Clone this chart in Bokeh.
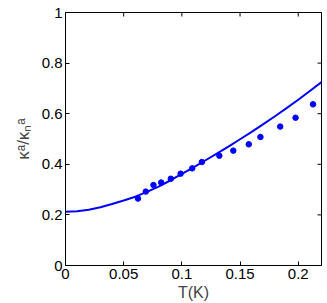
import math
from bokeh.plotting import figure
from bokeh.models import Range1d, FixedTicker
from bokeh.embed import file_html
from bokeh.resources import INLINE

# fitted curve
T_fit = [0.00, 0.01, 0.02, 0.03, 0.04, 0.05, 0.06, 0.07, 0.08, 0.09, 0.10, 0.11,
         0.12, 0.13, 0.14, 0.15, 0.16, 0.17, 0.18, 0.19, 0.20, 0.21, 0.22]
k_fit = [0.212, 0.214, 0.220, 0.230, 0.243, 0.257, 0.272, 0.291, 0.312, 0.336, 0.362, 0.388,
         0.415, 0.442, 0.470, 0.499, 0.528, 0.559, 0.590, 0.622, 0.655, 0.690, 0.725]

# measured points
T_data = [0.0623, 0.0690, 0.0756, 0.0822, 0.0905, 0.0989, 0.1089, 0.1172,
          0.1322, 0.1442, 0.1575, 0.1675, 0.1845, 0.1977, 0.2127]
k_data = [0.2645, 0.292, 0.318, 0.328, 0.343, 0.363, 0.384, 0.409,
          0.434, 0.454, 0.479, 0.508, 0.549, 0.584, 0.637]

x_ticks = [0, 0.05, 0.1, 0.15, 0.2]
x_tick_labels = ["0", "0.05", "0.1", "0.15", "0.2"]
y_ticks = [0, 0.2, 0.4, 0.6, 0.8, 1.0]
y_tick_labels = ["0", "0.2", "0.4", "0.6", "0.8", "1"]

X_MAX = 0.22
Y_MAX = 1.0
FONT = "Liberation Sans"
BLUE = "#0000ff"

p = figure(width=327, height=303, output_backend="svg", toolbar_location=None,
           x_range=Range1d(0, X_MAX), y_range=Range1d(0, Y_MAX),
           min_border_left=65, min_border_right=6, min_border_top=12, min_border_bottom=36)
p.background_fill_color = "white"
p.border_fill_color = "white"
p.outline_line_color = "black"
p.outline_line_width = 1
p.grid.visible = False

p.line(T_fit, k_fit, line_color=BLUE, line_width=2)
p.scatter(T_data, k_data, size=5.5, fill_color=BLUE, line_color=BLUE)

# inward ticks on the top and right edges (outer half is clipped by the frame)
p.scatter([X_MAX] * len(y_ticks), y_ticks, marker="dash", size=8,
          line_color="black", line_width=1)
p.scatter(x_ticks, [Y_MAX] * len(x_ticks), marker="dash", size=8, angle=math.pi / 2,
          line_color="black", line_width=1)


def style_axis(ax, ticks, labels):
    ax.ticker = FixedTicker(ticks=ticks)
    ax.major_label_overrides = {t: l for t, l in zip(ticks, labels)}
    ax.major_tick_in = 4
    ax.major_tick_out = 0
    ax.minor_tick_line_color = None
    ax.axis_line_color = "black"
    ax.major_tick_line_color = "black"
    ax.major_label_text_font = FONT
    ax.major_label_text_color = "black"
    ax.major_label_text_font_size = "15px"
    ax.major_label_standoff = 3


style_axis(p.xaxis[0], x_ticks, x_tick_labels)
style_axis(p.yaxis[0], y_ticks, y_tick_labels)

p.xaxis[0].axis_label = "T(K)"
p.xaxis[0].axis_label_text_font = FONT
p.xaxis[0].axis_label_text_font_size = "16px"
p.xaxis[0].axis_label_text_font_style = "normal"
p.xaxis[0].axis_label_standoff = 2

p.yaxis[0].axis_label = "κᵃ/κₙᵃ"
p.yaxis[0].axis_label_text_font = FONT
p.yaxis[0].axis_label_text_font_size = "17px"
p.yaxis[0].axis_label_text_font_style = "normal"
p.yaxis[0].axis_label_standoff = 6

open("out.html", "w").write(file_html(p, INLINE))
